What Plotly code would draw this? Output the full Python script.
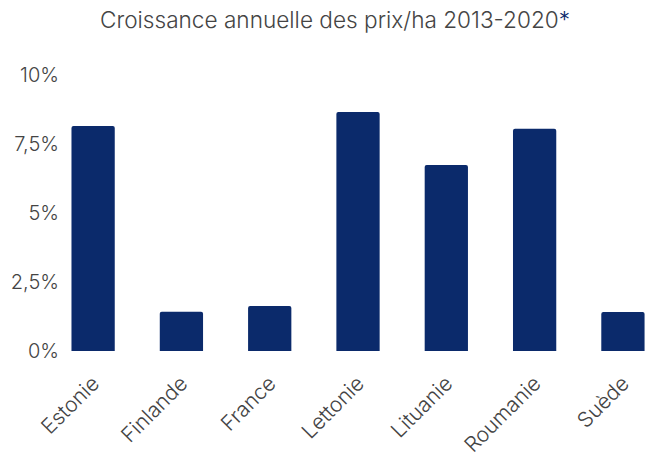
import plotly.graph_objects as go

categories = ["Estonie", "Finlande", "France", "Lettonie", "Lituanie", "Roumanie", "Suède"]
growth = [0.0815, 0.0142, 0.0163, 0.0866, 0.0674, 0.0805, 0.0141]
y_tickvals = [0, 0.025, 0.05, 0.075, 0.10]
y_ticktext = ["0%", "2,5%", "5%", "7,5%", "10%"]

navy = "#0B2A6B"
grey = "#444444"
font_family = "Inter, Roboto, sans-serif"

fig = go.Figure(go.Bar(
    x=categories, y=growth,
    marker=dict(color=navy, line=dict(width=0), cornerradius=2),
    width=0.49,
))

fig.update_layout(
    width=645, height=459,
    margin=dict(l=60, r=0, t=75, b=108, autoexpand=False),
    paper_bgcolor="white", plot_bgcolor="white",
    showlegend=False,
    font=dict(family=font_family, color=grey),
    title=dict(
        text="Croissance annuelle des prix/ha 2013-2020<span style='color:#0B2A6B'>*</span>",
        x=335/645, xanchor="center", xref="container",
        y=1 - 20/459, yanchor="middle",
        font=dict(size=22.6, family=font_family, color=grey, weight=300),
    ),
)
fig.update_xaxes(
    range=[-0.375, 6.25], showgrid=False, zeroline=False, showline=False,
    ticks="", tickangle=-45, automargin=False, ticklabelstandoff=15,
    tickfont=dict(size=21, color=grey, family=font_family, weight=300),
)
fig.update_yaxes(
    range=[0, 0.10], tickvals=y_tickvals, ticktext=y_ticktext,
    showgrid=False, zeroline=False, showline=False, ticks="", automargin=False,
    tickfont=dict(size=20, color=grey, family=font_family, weight=300),
)

fig.write_html(
    "out.html",
    config={"displayModeBar": False},
    post_script="document.body.style.margin='0';document.body.style.overflow='hidden';",
)
